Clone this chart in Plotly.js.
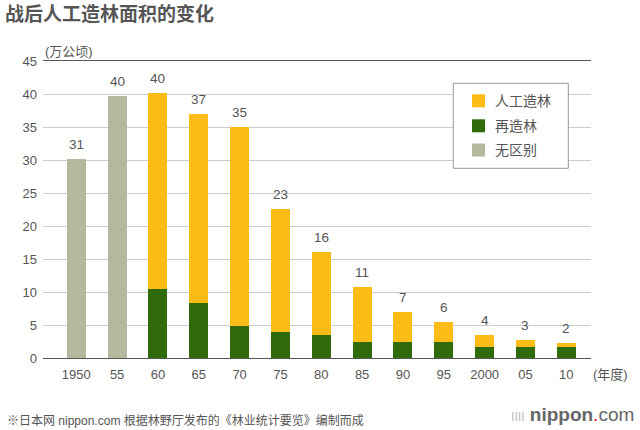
<!DOCTYPE html>
<html>
<head>
<meta charset="utf-8">
<script src="https://cdn.plot.ly/plotly-3.0.1.min.js"></script>
<style>
html,body{margin:0;padding:0;background:#fff;}
#chart{width:640px;height:430px;}
</style>
</head>
<body>
<div id="chart"></div>
<script>
// ---- data ----
var categories = ['1950','55','60','65','70','75','80','85','90','95','2000','05','10'];
var noDistinction = [30.2, 39.7, null, null, null, null, null, null, null, null, null, null, null]; // 无区别
var reforestation = [null, null, 10.4, 8.4, 4.8, 4.0, 3.5, 2.5, 2.5, 2.5, 1.7, 1.7, 1.6]; // 再造林
var artificialRest = [null, null, 29.8, 28.6, 30.2, 18.6, 12.6, 8.2, 4.5, 3.0, 1.8, 1.1, 0.6]; // 人工造林 (segment above 再造林)
var totalLabels = ['31','40','40','37','35','23','16','11','7','6','4','3','2'];
var yTicks = [0,5,10,15,20,25,30,35,40,45];
var legendNames = ['人工造林','再造林','无区别'];

var FONT = '"Liberation Sans", Arial, "Noto Sans CJK SC", sans-serif';
var TXT = '#555';
var COL_ART = '#FBBC16', COL_RE = '#2F6B0B', COL_NO = '#B3B89E';
var legendColors = [COL_ART, COL_RE, COL_NO];

var traces = [
  {type:'bar', name:'无区别', x:categories, y:noDistinction, marker:{color:COL_NO}, hoverinfo:'skip', showlegend:false},
  {type:'bar', name:'再造林', x:categories, y:reforestation, marker:{color:COL_RE}, hoverinfo:'skip', showlegend:false},
  {type:'bar', name:'人工造林', x:categories, y:artificialRest, marker:{color:COL_ART}, hoverinfo:'skip', showlegend:false}
];

var annotations = [];
categories.forEach(function(c, i){
  var tot = (noDistinction[i]||0) + (reforestation[i]||0) + (artificialRest[i]||0);
  annotations.push({x:i, y:tot, xref:'x', yref:'y', text:totalLabels[i], showarrow:false,
    yanchor:'bottom', yshift:5, font:{family:FONT, size:13.5, color:TXT}});
});
annotations.push({xref:'paper', yref:'paper', x:0, y:1.033, xanchor:'left', yanchor:'middle',
  text:'(万公顷)', showarrow:false, font:{family:FONT, size:13, color:TXT}});
annotations.push({xref:'paper', yref:'paper', x:1, y:-0.055, xanchor:'left', yanchor:'middle',
  text:'(年度)', showarrow:false, font:{family:FONT, size:13, color:TXT}});
annotations.push({xref:'paper', yref:'paper', x:-0.07, y:-0.209, xanchor:'left', yanchor:'middle',
  text:'※日本网 nippon.com 根据林野厅发布的《林业统计要览》编制而成', showarrow:false,
  font:{family:FONT, size:12, color:TXT}});
annotations.push({xref:'paper', yref:'paper', x:1.082, y:-0.19, xanchor:'right', yanchor:'middle',
  text:'<span style="color:#bbb;font-size:13px">ǀǀǀǀ</span> <b>nippon</b><span style="color:#e60012">.</span>com', showarrow:false,
  font:{family:FONT, size:19, color:'#666'}});

// legend (drawn as a box with swatches)
var shapes = [{type:'rect', xref:'paper', yref:'paper', x0:0.7487, x1:0.9586, y0:0.6387, y1:0.9249,
  line:{color:'#999', width:1}, fillcolor:'#fff', layer:'above'}];
var rowY = [0.8660, 0.7818, 0.7003];
legendNames.forEach(function(n, k){
  shapes.push({type:'rect', xref:'paper', yref:'paper', x0:0.7828, x1:0.8066,
    y0:rowY[k]-0.0219, y1:rowY[k]+0.0219, line:{width:0}, fillcolor:legendColors[k], layer:'above'});
  annotations.push({xref:'paper', yref:'paper', x:0.8217, y:rowY[k], xanchor:'left', yanchor:'middle',
    text:n, showarrow:false, font:{family:FONT, size:14, color:TXT}});
});

var layout = {
  width:640, height:430,
  paper_bgcolor:'#fff', plot_bgcolor:'#fff',
  margin:{l:43, r:49, t:61, b:72, pad:0},
  barmode:'stack',
  bargap:0.535,
  title:{text:'<b>战后人工造林面积的变化</b>', x:0.008, xanchor:'left', xref:'container',
    y:1-14/430, yanchor:'middle', yref:'container',
    font:{family:'"Noto Sans CJK SC", sans-serif', size:19, color:'#555'}},
  xaxis:{type:'category', range:[-0.815, 12.605], showgrid:false, zeroline:false,
    showline:true, mirror:true, linecolor:'#555', linewidth:1, ticks:'',
    ticklabelstandoff:4,
    tickfont:{family:FONT, size:13, color:TXT}, fixedrange:true},
  yaxis:{range:[0,45], tickvals:yTicks, showgrid:true, gridcolor:'#ccc', gridwidth:1,
    zeroline:false, showline:false, ticks:'', ticklabelstandoff:5,
    tickfont:{family:FONT, size:13, color:TXT}, fixedrange:true},
  showlegend:false,
  shapes:shapes,
  annotations:annotations
};

Plotly.newPlot('chart', traces, layout, {displayModeBar:false, staticPlot:true});
</script>
</body>
</html>
